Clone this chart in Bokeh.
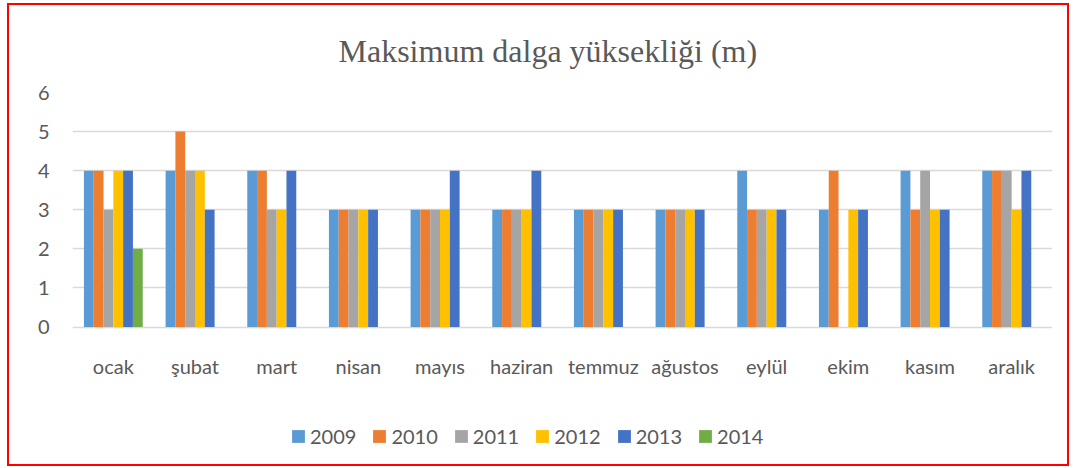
from bokeh.plotting import figure
from bokeh.models import (ColumnDataSource, FactorRange, Legend, LegendItem,
                          Range1d, FixedTicker)
from bokeh.transform import dodge
from bokeh.core.properties import value
from bokeh.embed import file_html
from bokeh.resources import INLINE

NaN = float("nan")

months = ["ocak", "şubat", "mart", "nisan", "mayıs", "haziran", "temmuz",
          "ağustos", "eylül", "ekim", "kasım", "aralık"]
years = ["2009", "2010", "2011", "2012", "2013", "2014"]
y2009 = [4, 4, 4, 3, 3, 3, 3, 3, 4, 3, 4, 4]
y2010 = [4, 5, 4, 3, 3, 3, 3, 3, 3, 4, 3, 4]
y2011 = [3, 4, 3, 3, 3, 3, 3, 3, 3, NaN, 4, 4]
y2012 = [4, 4, 3, 3, 3, 3, 3, 3, 3, 3, 3, 3]
y2013 = [4, 3, 4, 3, 4, 4, 3, 3, 3, 3, 3, 4]
y2014 = [2, NaN, NaN, NaN, NaN, NaN, NaN, NaN, NaN, NaN, NaN, NaN]
y_ticks = [0, 1, 2, 3, 4, 5, 6]
title_text = "Maksimum dalga yüksekliği (m)"

colors = ["#5B9BD5", "#ED7D31", "#A5A5A5", "#FFC000", "#4472C4", "#70AD47"]
series = [y2009, y2010, y2011, y2012, y2013, y2014]

data = {"month": months, "base": [0] * len(months)}
for yr, vals in zip(years, series):
    data["y" + yr] = vals
source = ColumnDataSource(data)

TXT = "#595959"
GRID = "#D9D9D9"

W, H = 1058, 459
TOP, BOTTOM = 87, 5
# frame extends below the value axis so that category labels and legend
# sit inside it; 6 units span 232 px
px_per_unit = 232 / 6
frame_h = H - TOP - BOTTOM
y_min = 6 - frame_h / px_per_unit

p = figure(x_range=FactorRange(*months, range_padding=0),
           y_range=Range1d(y_min, 6),
           width=W, height=H, x_axis_location=None,
           output_backend="svg", toolbar_location=None,
           min_border_left=63, min_border_right=19,
           min_border_top=TOP, min_border_bottom=BOTTOM)

p.styles = {"border": "2px solid #FF0000", "margin-left": "7px",
            "margin-top": "3px", "box-sizing": "border-box",
            "width": f"{W + 4}px", "height": f"{H + 4}px",
            "overflow": "hidden"}

p.title.text = title_text
p.title.text_font = "Liberation Serif"
p.title.text_font_size = "32px"
p.title.text_font_style = "normal"
p.title.text_color = TXT
p.title.align = "left"
p.title.offset = 266
p.title.standoff = 48

p.outline_line_color = None
p.background_fill_color = "white"
p.border_fill_color = "white"

p.xgrid.grid_line_color = None
p.ygrid.grid_line_color = GRID
p.ygrid.grid_line_width = 1.5

p.yaxis.ticker = FixedTicker(ticks=y_ticks)
p.yaxis.axis_line_color = None
p.yaxis.major_tick_line_color = None
p.yaxis.minor_tick_line_color = None
p.yaxis.major_label_standoff = 17
p.yaxis.major_label_text_font = "Lato"
p.yaxis.major_label_text_font_size = "20px"
p.yaxis.major_label_text_color = TXT

# category labels under the value axis
p.text(x="month", y="base", text="month", source=source, y_offset=39,
       text_align="center", text_baseline="middle",
       text_font=value("Lato"), text_font_size="20px", text_color=TXT)

bw = 0.12
items = []
for i, (yr, col) in enumerate(zip(years, colors)):
    off = -0.3 + bw * i
    r = p.vbar(x=dodge("month", off, range=p.x_range), top="y" + yr,
               width=bw, source=source, fill_color=col, line_color=None)
    items.append(LegendItem(label=yr, renderers=[r]))

legend = Legend(items=items, orientation="horizontal",
                location=(218, 15), nrows=1, ncols=len(items),
                glyph_width=16, glyph_height=16, label_standoff=4,
                spacing=15, padding=0, margin=0,
                label_text_font="Lato", label_text_font_size="20px",
                label_text_color=TXT,
                background_fill_alpha=0, border_line_color=None)
p.add_layout(legend, "center")

open("out.html", "w").write(file_html(p, INLINE))
